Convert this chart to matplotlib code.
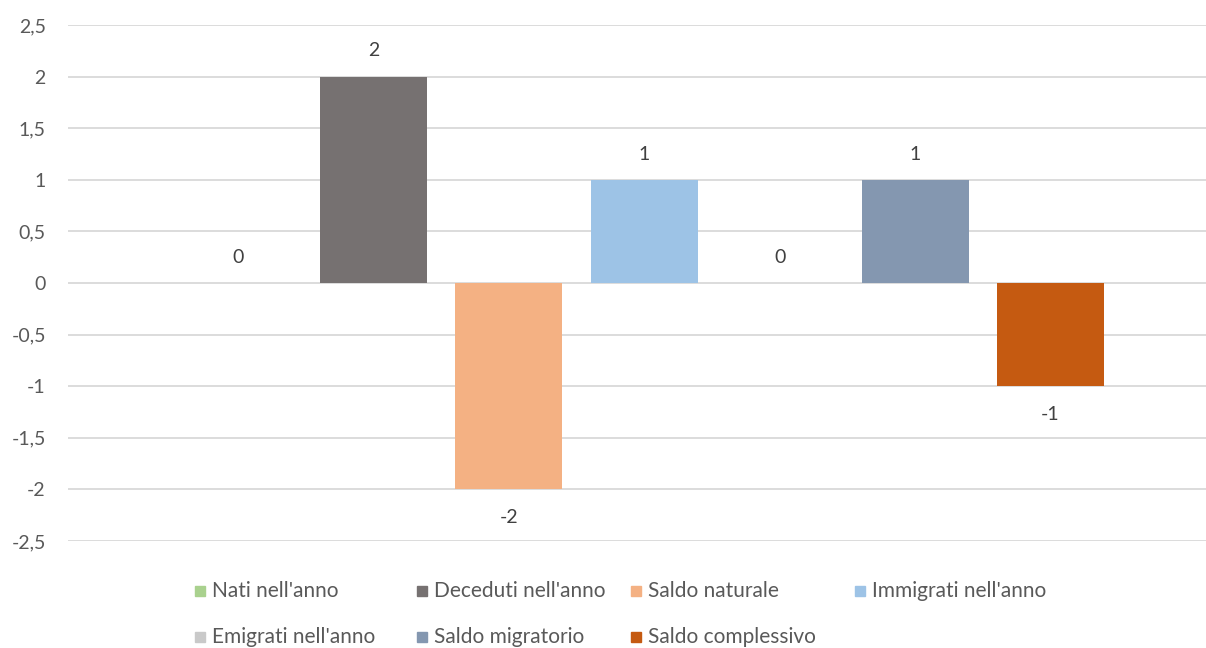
import matplotlib
matplotlib.use("Agg")
import matplotlib.pyplot as plt
from matplotlib.patches import Rectangle

categories = ["Nati nell'anno", "Deceduti nell'anno", "Saldo naturale", "Immigrati nell'anno",
              "Emigrati nell'anno", "Saldo migratorio", "Saldo complessivo"]
values = [0, 2, -2, 1, 0, 1, -1]
colors = ["#A9D18E", "#767171", "#F4B183", "#9DC3E6", "#C9C9C9", "#8497B0", "#C55A11"]
yticks = [-2.5, -2, -1.5, -1, -0.5, 0, 0.5, 1, 1.5, 2, 2.5]
ytick_labels = [f"{t:g}".replace(".", ",") for t in yticks]

plt.rcParams['font.family'] = ['Lato', 'DejaVu Sans']

W, H = 1206, 648
fig = plt.figure(figsize=(W / 100, H / 100), dpi=100)
ax = fig.add_axes([68 / W, (H - 541) / H, (1206 - 68) / W, 516 / H])

x = list(range(len(values)))
ax.bar(x, values, width=0.79, color=colors, zorder=3)
ax.set_xlim(-1.256, 7.148)
ax.set_ylim(-2.5, 2.5)
ax.set_yticks(yticks)
ax.set_yticklabels(ytick_labels)
ax.tick_params(axis='y', length=0, pad=16, labelsize=14, labelcolor="#595959")
ax.set_xticks([])
for s in ax.spines.values():
    s.set_visible(False)
ax.grid(axis='y', color="#D9D9D9", linewidth=1.3, zorder=0)

for xi, v in zip(x, values):
    off = 18.5 if v >= 0 else -20.5
    ax.annotate(f"{v:g}", (xi, v), xytext=(0, off), textcoords='offset points',
                ha='center', va='center', fontsize=14, color="#404040")

# legend (manual, Excel-like fixed columns)
col_x = [195, 417, 631, 855]
row_y = [591, 637]
for i, (lab, c) in enumerate(zip(categories, colors)):
    r, k = divmod(i, 4)
    sx, sy = col_x[k], row_y[r]
    fig.patches.append(Rectangle((sx / W, (H - sy - 5) / H), 10 / W, 10 / H,
                                 transform=fig.transFigure, color=c))
    fig.text((sx + 17) / W, (H - sy) / H, lab, ha='left', va='center',
             fontsize=15, color="#595959")

fig.savefig("out.png", dpi=100)
